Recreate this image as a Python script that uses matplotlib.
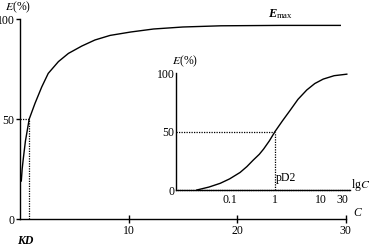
import matplotlib
matplotlib.use("Agg")
import matplotlib.pyplot as plt

# Main hyperbolic curve (linear concentration)
main_c = [0.12, 0.2, 0.3, 0.5, 0.85, 1.38, 2.0, 2.6, 3.54, 4.46, 5.7, 6.9, 8.3, 10.2, 12.3, 15, 18.5, 24, 29.5]
main_e = [19, 25, 30, 39, 50, 57.8, 66, 72.8, 78.7, 82.8, 86.5, 89.5, 91.8, 93.5, 95, 96, 96.6, 96.8, 96.8]
kd = 0.85
main_xticks = [10, 20, 30]
main_yticks = [0, 50, 100]

# Inset sigmoid curve (log concentration)
inset_c = [0.019, 0.035, 0.062, 0.1, 0.17, 0.24, 0.33, 0.45, 0.56, 0.75, 1.0, 1.45, 2.14, 3.2, 5.0, 7.5, 11.5, 20, 38]
inset_e = [0, 2.5, 5.7, 9.5, 15, 20, 25.5, 30.5, 35, 42, 50, 59, 68, 77.5, 85.5, 91, 94.8, 97.7, 99]
pd2 = 1.0
inset_xticks = [0.1, 1, 10, 30]
inset_xlabels = ["0.1", "1", "10", "30"]
inset_yticks = [0, 50, 100]

plt.rcParams['font.family'] = ['Liberation Serif', 'DejaVu Serif']
plt.rcParams['mathtext.fontset'] = 'stix'
W, H = 369, 249
fig = plt.figure(figsize=(W / 100, H / 100), dpi=100)

def box(x0, y0, x1, y1):
    return [x0 / W, 1 - y1 / H, (x1 - x0) / W, (y1 - y0) / H]

fs = 8.5
lw = 1.0
dot = (0, (1, 1))

ax = fig.add_axes(box(20, 19, 345.7, 219))
ax.plot(main_c, main_e, color='black', lw=lw)
ax.plot([0, kd], [50, 50], color='black', lw=0.9, ls=dot)
ax.plot([kd, kd], [0, 50], color='black', lw=0.9, ls=dot)
ax.set_xlim(0, 30)
ax.set_ylim(0, 100)
for s in ['top', 'right']:
    ax.spines[s].set_visible(False)
for s in ['left', 'bottom']:
    ax.spines[s].set_linewidth(1.0)
ax.set_xticks(main_xticks)
ax.set_yticks(main_yticks)
ax.tick_params(axis='x', direction='inout', length=6, width=1, labelsize=fs, pad=1)
ax.tick_params(axis='y', direction='out', length=3, width=1, labelsize=fs, pad=1)
ax.set_facecolor('none')

fig.text(5 / W, 1 - 7 / H, r"$E$(%)", fontsize=fs, va='center', ha='left')
fig.text(268 / W, 1 - 14 / H, "E", fontsize=fs + 0.5, fontweight='bold', fontstyle='italic',
         va='center', ha='left')
fig.text(277 / W, 1 - 16 / H, "max", fontsize=fs - 2, va='center', ha='left')
fig.text(353 / W, 1 - 213 / H, "C", fontsize=fs, fontstyle='italic', va='center', ha='left')
fig.text(17 / W, 1 - 241 / H, "KD", fontsize=fs, fontstyle='italic', fontweight='bold',
         va='center', ha='left')

# Inset
ai = fig.add_axes(box(176, 73, 350, 190))
ai.set_xscale('log')
ai.plot(inset_c, inset_e, color='black', lw=lw)
ai.plot([10 ** -2.18, pd2], [50, 50], color='black', lw=0.9, ls=dot)
ai.plot([pd2, pd2], [0, 50], color='black', lw=0.9, ls=dot)
ai.set_xlim(10 ** -2.18, 10 ** 1.65)
ai.set_ylim(0, 100)
ai.set_xticks(inset_xticks)
ai.set_xticklabels(inset_xlabels)
ai.minorticks_off()
ai.set_yticks(inset_yticks)
for s in ['top', 'right']:
    ai.spines[s].set_visible(False)
ai.spines['left'].set_linewidth(1.0)
ai.spines['bottom'].set_linewidth(1.0)
ai.spines['bottom'].set_linestyle((0, (1, 0.6)))
ai.tick_params(axis='x', length=0, labelsize=fs, pad=3)
ai.tick_params(axis='y', length=0, labelsize=fs, pad=1)
ai.set_facecolor('none')
ai.text(pd2 * 1.05, 5, "pD2", fontsize=fs, va='bottom', ha='left')
fig.text(172 / W, 1 - 61 / H, r"$E$(%)", fontsize=fs, va='center', ha='left')
fig.text(351 / W, 1 - 185 / H, r"lg$C$", fontsize=fs, va='center', ha='left')

fig.savefig("out.png", dpi=100)
